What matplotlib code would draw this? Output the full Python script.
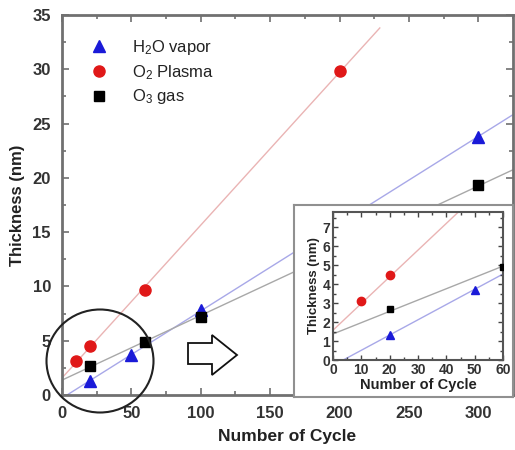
import numpy as np
import matplotlib
matplotlib.use("Agg")
import matplotlib.pyplot as plt
from matplotlib.patches import Ellipse, Polygon
from matplotlib.ticker import MultipleLocator

plt.rcParams['font.family'] = ['Liberation Sans', 'DejaVu Sans']
plt.rcParams['mathtext.fontset'] = 'custom'
plt.rcParams['mathtext.rm'] = 'Liberation Sans'
plt.rcParams['mathtext.it'] = 'Liberation Sans:italic'
plt.rcParams['mathtext.bf'] = 'Liberation Sans:bold'

# Data
h2o_x = [20, 50, 100, 300]
h2o_y = [1.3, 3.7, 7.8, 23.8]
o2p_x = [10, 20, 60, 200]
o2p_y = [3.1, 4.5, 9.7, 29.8]
o3_x = [20, 60, 100, 300]
o3_y = [2.7, 4.9, 7.2, 19.3]

labels = [r'H$_\mathrm{2}$O vapor', r'O$_\mathrm{2}$ Plasma', r'O$_\mathrm{3}$ gas']
x_ticks = [0, 50, 100, 150, 200, 250, 300]
y_ticks = [0, 5, 10, 15, 20, 25, 30, 35]
inset_x_ticks = [0, 10, 20, 30, 40, 50, 60]
inset_y_ticks = [0, 1, 2, 3, 4, 5, 6, 7]

W, H = 515, 450
fig = plt.figure(figsize=(W / 100, H / 100), dpi=100)

def fx(px):
    return px / W

def fy(py):
    return 1 - py / H

spine_c = '#707070'
txt_c = '#333333'

ax = fig.add_axes([fx(62), fy(395), fx(513) - fx(62), fy(15) - fy(395)])

fits = {}
for name, xs, ys in [('h2o', h2o_x, h2o_y), ('o2p', o2p_x, o2p_y), ('o3', o3_x, o3_y)]:
    fits[name] = np.polyfit(xs, ys, 1)

line_cols = {'h2o': '#a8a8e8', 'o2p': '#eab4b4', 'o3': '#a8a8a8'}

def draw_fit(a, name, x0, x1):
    p = fits[name]
    xx = np.array([x0, x1])
    a.plot(xx, np.polyval(p, xx), color=line_cols[name], lw=1.0, zorder=1)

draw_fit(ax, 'o2p', 0, 229)
draw_fit(ax, 'h2o', 0, 325)
draw_fit(ax, 'o3', 0, 325)

ax.plot(h2o_x, h2o_y, '^', color='#1a1ad8', ms=9, ls='none', label=labels[0], zorder=3)
ax.plot(o2p_x, o2p_y, 'o', color='#e01818', ms=8, ls='none', label=labels[1], zorder=3)
ax.plot(o3_x, o3_y, 's', color='#000000', ms=7, ls='none', label=labels[2], zorder=3)

ax.set_xlim(0, 325)
ax.set_ylim(0, 35)
ax.set_xticks(x_ticks)
ax.set_yticks(y_ticks)
ax.xaxis.set_minor_locator(MultipleLocator(25))
ax.yaxis.set_minor_locator(MultipleLocator(2.5))
ax.tick_params(which='both', direction='in', top=True, right=True, color=spine_c,
               width=1.2, labelcolor=txt_c)
ax.tick_params(which='major', length=5, labelsize=12, pad=8)
ax.tick_params(which='minor', length=3)
for lab in ax.get_xticklabels() + ax.get_yticklabels():
    lab.set_fontweight('bold')
for s in ax.spines.values():
    s.set_color(spine_c)
    s.set_linewidth(2)
ax.set_xlabel('Number of Cycle', fontsize=12.5, fontweight='bold', color='#222222', labelpad=6)
ax.set_ylabel('Thickness (nm)', fontsize=12, fontweight='bold', color='#222222', labelpad=5)

leg = ax.legend(loc='upper left', frameon=False, fontsize=12, handletextpad=1.4,
                labelspacing=0.35, bbox_to_anchor=(0.045, 0.957), borderaxespad=0,
                handlelength=1.2)
for t in leg.get_texts():
    t.set_color('#222222')

# circle highlighting origin region
ell = Ellipse((fx(100), fy(361)), fx(107), 103 / H, transform=fig.transFigure,
              fill=False, edgecolor='#222222', lw=1.5, zorder=5)
fig.patches.append(ell)

# hollow arrow
pts_px = [(188, 343), (212, 343), (212, 335), (237, 355), (212, 375), (212, 364), (188, 364)]
arrow = Polygon([(fx(x), fy(y)) for x, y in pts_px], closed=True, transform=fig.transFigure,
                facecolor='white', edgecolor='#111111', lw=1.3, zorder=5)
fig.patches.append(arrow)

# inset box
box = fig.add_axes([fx(294), fy(397), fx(513) - fx(294), fy(205) - fy(397)])
box.set_xticks([])
box.set_yticks([])
for s in box.spines.values():
    s.set_color('#909090')
    s.set_linewidth(1.5)
box.set_facecolor('white')

ins = fig.add_axes([fx(333), fy(360), fx(503) - fx(333), fy(212) - fy(360)])
draw_fit(ins, 'o2p', 0, 60)
draw_fit(ins, 'h2o', 0, 60)
draw_fit(ins, 'o3', 0, 60)
ins.plot(h2o_x, h2o_y, '^', color='#1a1ad8', ms=6, ls='none', zorder=3)
ins.plot(o2p_x, o2p_y, 'o', color='#e01818', ms=6, ls='none', zorder=3)
ins.plot(o3_x, o3_y, 's', color='#000000', ms=5, ls='none', zorder=3)
ins.set_xlim(0, 60)
ins.set_ylim(0, 7.8)
ins.set_xticks(inset_x_ticks)
ins.set_yticks(inset_y_ticks)
ins.xaxis.set_minor_locator(MultipleLocator(5))
ins.yaxis.set_minor_locator(MultipleLocator(0.5))
ins.tick_params(which='both', direction='in', top=True, right=True, color='#444444',
                width=1, labelcolor=txt_c)
ins.tick_params(which='major', length=3.5, labelsize=10, pad=2)
ins.tick_params(which='minor', length=2)
for lab in ins.get_xticklabels() + ins.get_yticklabels():
    lab.set_fontweight('bold')
for s in ins.spines.values():
    s.set_color('#555555')
    s.set_linewidth(1.5)
ins.set_xlabel('Number of Cycle', fontsize=10.5, fontweight='bold', color='#222222', labelpad=1)
ins.set_ylabel('Thickness (nm)', fontsize=9.5, fontweight='bold', color='#222222', labelpad=2)

fig.savefig('out.png', dpi=100)
